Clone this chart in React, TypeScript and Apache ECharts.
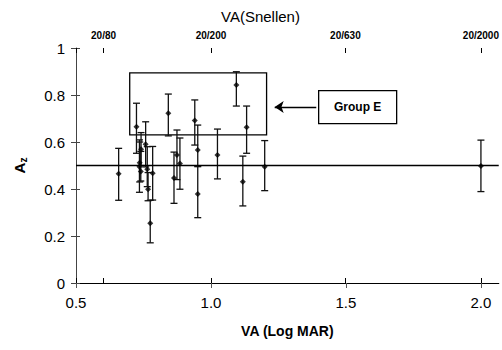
import React, { useEffect, useRef } from "react";
import * as echarts from "echarts";

// VA (Log MAR) of each observer
const logMAR = [0.658, 0.724, 0.735, 0.736, 0.740, 0.741, 0.758, 0.764, 0.767, 0.775, 0.784, 0.842, 0.863, 0.874, 0.885, 0.940, 0.951, 0.951, 1.024, 1.094, 1.118, 1.132, 1.199, 2.0];
// Az values
const az = [0.465, 0.665, 0.495, 0.512, 0.474, 0.569, 0.590, 0.484, 0.399, 0.254, 0.467, 0.722, 0.447, 0.545, 0.509, 0.692, 0.566, 0.379, 0.545, 0.843, 0.431, 0.663, 0.495, 0.498];
const azLow = [0.352, 0.552, 0.386, 0.430, 0.434, 0.500, 0.494, 0.410, 0.350, 0.171, 0.353, 0.626, 0.339, 0.440, 0.399, 0.587, 0.495, 0.278, 0.443, 0.753, 0.328, 0.552, 0.393, 0.389];
const azHigh = [0.573, 0.765, 0.609, 0.600, 0.560, 0.640, 0.686, 0.580, 0.470, 0.352, 0.581, 0.804, 0.557, 0.651, 0.617, 0.779, 0.672, 0.499, 0.655, 0.899, 0.540, 0.753, 0.606, 0.608];

// Top axis (Snellen)
const snellenLabels = ["20/80", "20/200", "20/630", "20/2000"];
const snellenLogMAR = [0.602, 1.0, 1.498, 2.0];
const bottomTicks = [0.5, 1.0, 1.5, 2.0];

// Annotations
const chanceLevel = 0.5;
const groupEBox = [[0.699, 0.894], [1.206, 0.630]];
const arrowFrom = [1.39, 0.749];
const arrowTo = [1.236, 0.749];

const FONT = "Liberation Sans";

export default function App() {
  const ref = useRef<HTMLDivElement>(null);
  useEffect(() => {
    if (!ref.current) return;
    const chart = echarts.init(ref.current, undefined, { renderer: "svg" });
    const points = logMAR.map((x, i) => [x, az[i]]);
    const bars = logMAR.map((x, i) => [x, azLow[i], azHigh[i]]);
    chart.setOption({
      animation: false,
      backgroundColor: "#fff",
      title: {
        text: "VA(Snellen)",
        left: 216,
        top: 4,
        textStyle: { fontFamily: FONT, fontSize: 15, fontWeight: "normal", color: "#000" },
      },
      grid: { left: 76, top: 48, right: 0, bottom: 67 },
      xAxis: [
        {
          type: "value",
          position: "bottom",
          min: 0.5,
          max: 2.066,
          splitLine: { show: false },
          axisLine: { lineStyle: { color: "#555", width: 1 } },
          axisTick: { customValues: bottomTicks, length: 5, lineStyle: { color: "#555" } },
          axisLabel: {
            customValues: bottomTicks,
            formatter: (v: number) => v.toFixed(1),
            fontFamily: FONT,
            fontSize: 15,
            color: "#000",
            margin: 12,
          },
          name: "VA (Log MAR)",
          nameLocation: "middle",
          nameGap: 41,
          nameTextStyle: { fontFamily: FONT, fontSize: 14, fontWeight: "bold", color: "#000" },
        },
        {
          type: "value",
          position: "top",
          min: 0.5,
          max: 2.066,
          splitLine: { show: false },
          axisLine: { lineStyle: { color: "#000", width: 1 } },
          axisTick: { customValues: [0.5, ...snellenLogMAR], length: 5, lineStyle: { color: "#000" } },
          axisLabel: {
            customValues: snellenLogMAR,
            formatter: (v: number) => {
              const i = snellenLogMAR.findIndex((s) => Math.abs(s - v) < 1e-6);
              return i >= 0 ? snellenLabels[i] : "";
            },
            fontFamily: FONT,
            fontSize: 10,
            fontWeight: "bold",
            color: "#000",
            margin: 8,
          },
        },
        {
          type: "value",
          position: "top",
          min: 0.5,
          max: 2.066,
          splitLine: { show: false },
          axisLine: { show: false },
          axisTick: { inside: true, customValues: [0.5, ...snellenLogMAR], length: 5, lineStyle: { color: "#000" } },
          axisLabel: { show: false },
        },
      ],
      yAxis: [
        {
          type: "value",
          min: 0,
          max: 1,
          interval: 0.2,
          splitLine: { show: false },
          axisLine: { show: true, lineStyle: { color: "#444", width: 1 } },
          axisTick: { show: true, length: 5, lineStyle: { color: "#444" } },
          axisLabel: {
            formatter: (v: number) => String(Number(v.toFixed(1))),
            fontFamily: FONT,
            fontSize: 15,
            color: "#000",
            margin: 11,
          },
          name: "{a|A}{s|z}",
          nameLocation: "middle",
          nameGap: 48,
          nameTextStyle: {
            rich: {
              a: { fontFamily: FONT, fontSize: 15, fontWeight: "bold", color: "#000", lineHeight: 18 },
              s: { fontFamily: FONT, fontSize: 10, fontWeight: "bold", color: "#000", verticalAlign: "bottom", lineHeight: 12, padding: [6, 0, 0, 0] },
            },
          },
        },
        {
          type: "value",
          min: 0,
          max: 1,
          interval: 0.2,
          position: "left",
          splitLine: { show: false },
          axisLine: { show: false },
          axisTick: { show: true, inside: true, length: 4, lineStyle: { color: "#444" } },
          axisLabel: { show: false },
        },
      ],
      series: [
        {
          type: "custom",
          xAxisIndex: 0,
          yAxisIndex: 0,
          data: bars,
          encode: { x: 0, y: [1, 2] },
          renderItem: (params: any, api: any) => {
            const x = api.value(0);
            const lo = api.coord([x, api.value(1)]);
            const hi = api.coord([x, api.value(2)]);
            const w = 3.5;
            const style = { stroke: "#111", lineWidth: 1.3 };
            return {
              type: "group",
              children: [
                { type: "line", shape: { x1: lo[0], y1: lo[1], x2: hi[0], y2: hi[1] }, style },
                { type: "line", shape: { x1: lo[0] - w, y1: lo[1], x2: lo[0] + w, y2: lo[1] }, style },
                { type: "line", shape: { x1: hi[0] - w, y1: hi[1], x2: hi[0] + w, y2: hi[1] }, style },
              ],
            };
          },
          z: 2,
          markLine: {
            silent: true,
            animation: false,
            label: { show: false },
            lineStyle: { color: "#000", width: 1.3, type: "solid" },
            symbol: ["none", "arrow"],
            symbolSize: [9, 9],
            data: [[{ coord: arrowFrom }, { coord: arrowTo }]],
          },
        },
        {
          type: "scatter",
          xAxisIndex: 0,
          yAxisIndex: 0,
          data: points,
          symbol: "diamond",
          symbolSize: 6,
          itemStyle: { color: "#000" },
          z: 3,
          markLine: {
            silent: true,
            animation: false,
            label: { show: false },
            lineStyle: { color: "#000", width: 1.3, type: "solid" },
            symbol: ["none", "none"],
            data: [{ yAxis: chanceLevel }],
          },
          markArea: {
            silent: true,
            label: { show: false },
            itemStyle: { color: "rgba(0,0,0,0)", borderColor: "#000", borderWidth: 1.3 },
            data: [[{ coord: groupEBox[0] }, { coord: groupEBox[1] }]],
          },
        },
      ],
      graphic: [
        {
          type: "group",
          left: 318,
          top: 90,
          children: [
            { type: "rect", shape: { x: 0, y: 0, width: 78, height: 33 }, style: { fill: "#fff", stroke: "#000", lineWidth: 1.3 } },
            {
              type: "text",
              x: 39,
              y: 16.5,
              style: { text: "Group E", fontFamily: FONT, fontSize: 12, fontWeight: "bold", fill: "#000", align: "center", verticalAlign: "middle" },
            },
          ],
        },
      ],
    });
    return () => chart.dispose();
  }, []);
  return <div ref={ref} style={{ position: "fixed", left: 0, top: 0, width: 502, height: 350 }} />;
}
